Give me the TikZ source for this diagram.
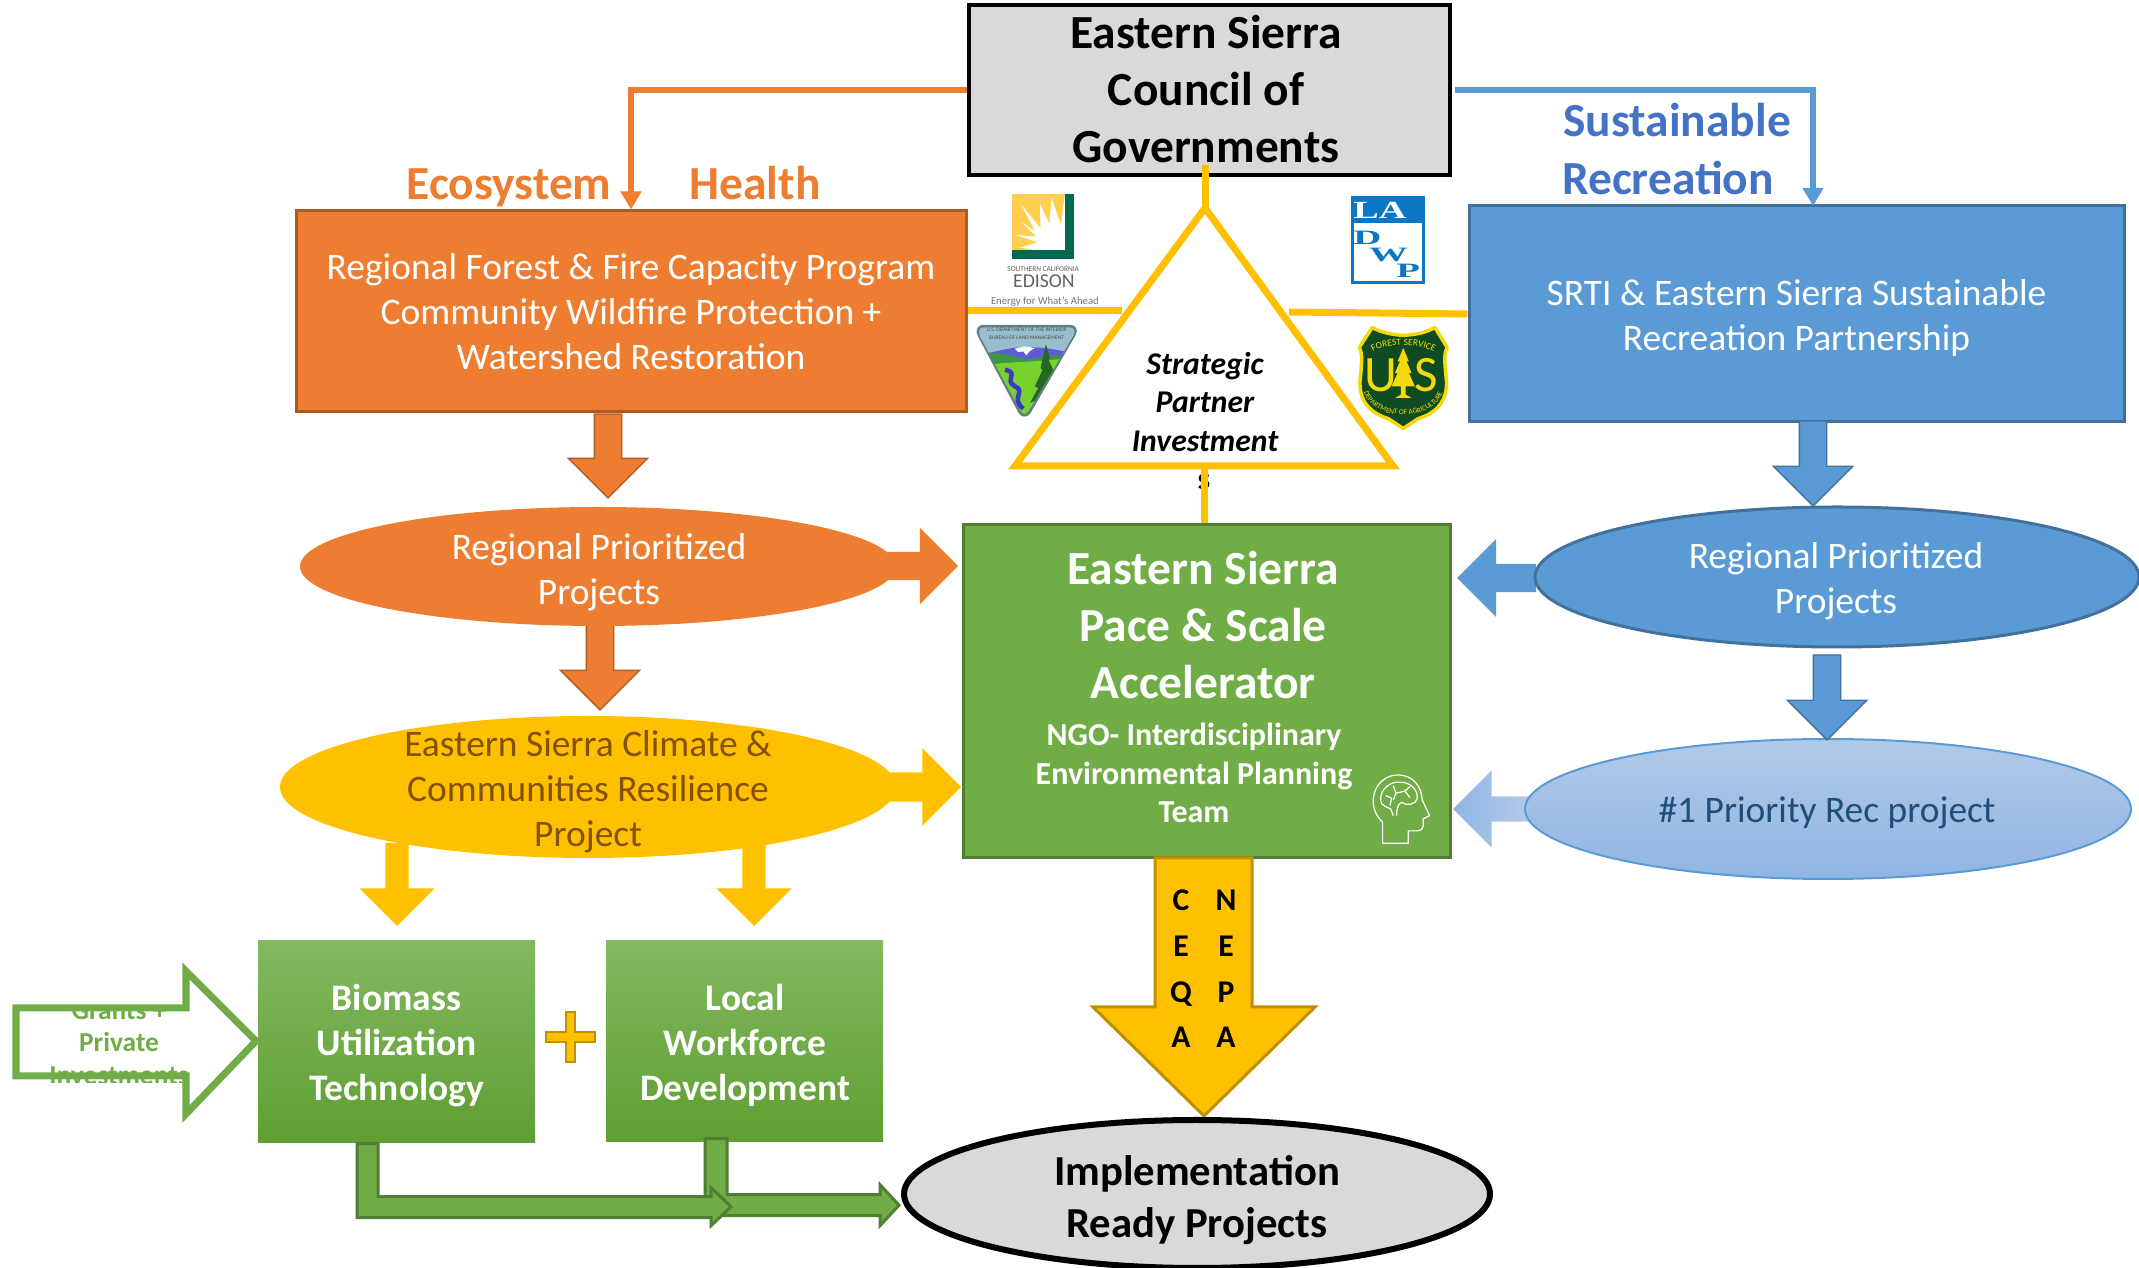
\documentclass[tikz,border=0pt]{standalone}
\usepackage{fontspec}
\usepackage{graphicx}
\setmainfont{Carlito}
\newfontfamily\slabfont{Liberation Serif}
\usetikzlibrary{positioning,arrows.meta,shapes.geometric,shapes.arrows,decorations.text}
\definecolor{esorange}{HTML}{ED7D31}
\definecolor{esorangedk}{HTML}{AE5A21}
\definecolor{esblue}{HTML}{5B9BD5}
\definecolor{esbluedk}{HTML}{41719C}
\definecolor{esgreen}{HTML}{70AD47}
\definecolor{esgreendk}{HTML}{507E32}
\definecolor{esgreentop}{HTML}{82B85F}
\definecolor{esgreenbot}{HTML}{5F9F32}
\definecolor{espaletop}{HTML}{B1CAE8}
\definecolor{espalebot}{HTML}{90B5E3}
\definecolor{esyellow}{HTML}{FFC000}
\definecolor{esyellowdk}{HTML}{BF9000}
\definecolor{esgrey}{HTML}{D9D9D9}
\definecolor{estitleblue}{HTML}{4472C4}
\definecolor{esbrown}{HTML}{845100}
\definecolor{esnavy}{HTML}{1F4E79}
\definecolor{edisongreen}{HTML}{00694F}
\definecolor{edisonsun}{HTML}{FFCF4D}
\definecolor{dwpblue}{HTML}{0B76C4}
\definecolor{usfsgreen}{HTML}{0E4B22}
\definecolor{usfsyellow}{HTML}{F5D90A}
\tikzset{
  bodytext/.style={text=white,align=center,inner sep=0pt,font=\fontsize{10.65}{12.8}\selectfont},
  boldtext/.style={align=center,inner sep=0pt,font=\fontsize{10.65}{12.8}\selectfont\bfseries},
  headtext/.style={align=center,inner sep=0pt,font=\fontsize{13.5}{16.2}\selectfont\bfseries},
  planbox/.style n args={2}{rectangle,inner sep=0pt,minimum width=#1*0.01cm,minimum height=#2*0.01cm},
  planell/.style n args={2}{ellipse,inner sep=0pt,minimum width=#1*0.01cm,minimum height=#2*0.01cm},
  barrow/.style n args={3}{single arrow,inner sep=(#2-2*#3)/2*0.01cm,anchor=tip,minimum height=#1*0.01cm,single arrow head extend=#3*0.01cm},
  downbarrow/.style={shape border rotate=270},
  leftbarrow/.style={shape border rotate=180},
  yellowline/.style={draw=esyellow,line width=0.07cm},
  tinylogo/.style={inner sep=0pt,align=center},
}
\begin{document}
\begin{tikzpicture}[x=0.01cm,y=-0.01cm]
            \useasboundingbox (0,0) rectangle (2139,1268);

            \node[planbox={481}{170},draw=black,line width=0.035cm,fill=esgrey] (council) at (1209.5,90) {};
            \node[headtext] (counciltext) at (1206,89) {Eastern Sierra\\Council of\\Governments};
            \node[planbox={670}{201},draw=esorangedk,line width=0.03cm,fill=esorange,bodytext] (forestbox) at (631,311.5) {Regional Forest \& Fire Capacity Program\\Community Wildfire Protection +\\Watershed Restoration};
            \node[planbox={655}{216},draw=esbluedk,line width=0.03cm,fill=esblue] (srtibox) at (1796.5,314) {};
            \node[bodytext] (srtitext) at (1796.5,318) {SRTI \& Eastern Sierra Sustainable\\Recreation Partnership};
            \node[planbox={487}{333},draw=esgreendk,line width=0.03cm,fill=esgreen] (accelbox) at (1206.5,691.5) {};

            \node[headtext,text=esorange,anchor=base] (ecotitle) at (509,200) {Ecosystem};
            \node[headtext,text=esorange,anchor=base] (healthtitle) at (755,200) {Health};
            \node[headtext,text=estitleblue] (sustitle) at (1677,120) {Sustainable};
            \node[headtext,text=estitleblue] (rectitle) at (1668,178) {Recreation};

            \coordinate (srtitop) at (1813,206);
            \draw[esorange,line width=0.055cm,-{Triangle[length=0.18cm,width=0.2cm]}] (council.west) -| (forestbox.north);
            \draw[esblue,line width=0.055cm,-{Triangle[length=0.18cm,width=0.2cm]}] ([xshift=0.035cm]council.east) -| (srtitop);

            \draw[yellowline,fill=white] (1205,208) coordinate (apex) -- (1393,466) coordinate (baseright) -- (1015,466) coordinate (baseleft) -- cycle;
            \coordinate (councilfoot) at (1205,165);
            \coordinate (apexfoot) at (1204,466);
            \coordinate (triwest) at (1122,311);
            \coordinate (trieast) at (1289,312);
            \node[tinylogo,font=\fontsize{9}{10.9}\selectfont\bfseries] (sfoot) at (1204,482) {s};
            \draw[yellowline] (councilfoot) -- (apex);
            \draw[yellowline] (apexfoot) -- (apexfoot |- accelbox.north);
            \draw[yellowline] (forestbox.east |- triwest) -- (triwest);
            \draw[yellowline] (srtibox.west) -- (trieast);
            \node[tinylogo,font=\fontsize{9}{10.9}\selectfont\bfseries\itshape] (strategic) at (1205,402) {Strategic\\Partner\\Investment};

            \node[barrow={84}{78}{26},downbarrow,draw=esorangedk,fill=esorange] (orangedownA) at (608,499) {};
            \node[barrow={85}{78}{26},downbarrow,draw=esorangedk,fill=esorange] (orangedownB) at (600,711) {};
            \node[barrow={70}{75}{24},fill=esorange] (orangeright) at (959,566) {};
            \node[barrow={73}{76}{24},fill=esyellow] (yellowright) at (962,787) {};
            \node[barrow={83}{74}{26},downbarrow,fill=esyellow] (yellowdownA) at (397,927) {};
            \node[barrow={83}{74}{26},downbarrow,fill=esyellow] (yellowdownB) at (754,927) {};
            \node[barrow={85}{78}{26},downbarrow,draw=esbluedk,fill=esblue] (bluedownA) at (1813,507) {};
            \node[barrow={79}{77}{25},leftbarrow,fill=esblue] (blueleft) at (1456,578) {};
            \node[barrow={76}{76}{26},leftbarrow,left color=espalebot,right color=espaletop] (paleleft) at (1452,809) {};

            \node[planell={596}{119},fill=esorange] (orangeell) at (598,566.5) {};
            \node[bodytext] (orangetext) at (599,572) {Regional Prioritized\\Projects};
            \node[planell={616}{142},fill=esyellow] (yellowell) at (588,787) {};
            \node[bodytext,text=esbrown] (yellowtext) at (588,792) {Eastern Sierra Climate \&\\Communities Resilience\\Project};
            \node[planell={604}{140},draw=esbluedk,line width=0.03cm,fill=esblue] (blueell) at (1837,577) {};
            \node[bodytext] (bluetext) at (1836,581) {Regional Prioritized\\Projects};
            \node[planell={606}{140},draw=esblue,line width=0.02cm,top color=espaletop,bottom color=espalebot] (paleell) at (1828,809) {};
            \node[bodytext,text=esnavy] (paletext) at (1827,813) {\#1 Priority Rec project};
            \node[barrow={85}{78}{26},downbarrow,draw=esbluedk,fill=esblue] (bluedownB) at (1827,741) {};

            \node[headtext,text=white] (accelname) at (1203,625) {Eastern Sierra\\Pace \& Scale\\Accelerator};
            \node[tinylogo,text=white,font=\fontsize{9.1}{10.9}\selectfont\bfseries] (accelteam) at (1194,773) {NGO- Interdisciplinary\\Environmental Planning\\Team};

            \begin{scope}[shift={(1360,765)},x=0.00333cm,y=-0.00333cm,white,line width=0.012cm,line join=round]
              \draw (68,235) -- (68,172) .. controls (45,150) and (38,125) .. (40,100) .. controls (45,55) and (80,28) .. (118,30) .. controls (160,32) and (185,65) .. (187,105) -- (209,152) -- (190,162) -- (190,182) .. controls (188,195) and (178,198) .. (168,198) -- (145,198) -- (145,235) -- cycle;
              \draw (62,105) .. controls (60,70) and (95,48) .. (120,52) .. controls (150,50) and (175,75) .. (172,100) .. controls (170,118) and (140,125) .. (125,112) .. controls (112,118) and (110,135) .. (110,152);
              \draw (62,105) .. controls (60,122) and (85,128) .. (92,132) -- (100,152);
              \draw (78,92) -- (95,100) -- (90,122);
              \draw (100,62) -- (108,85) -- (135,78) -- (150,65);
              \draw (108,85) -- (100,105);
              \draw (135,78) -- (150,98);
            \end{scope}

            \node[planbox={277}{202},top color=esgreentop,bottom color=esgreenbot] (biomass) at (396.5,1042) {};
            \node[boldtext,text=white] (biomasstext) at (396.5,1046) {Biomass\\Utilization\\Technology};
            \node[planbox={277}{201},top color=esgreentop,bottom color=esgreenbot] (workforce) at (744.5,1041.5) {};
            \node[boldtext,text=white] (workforcetext) at (745,1045) {Local\\Workforce\\Development};

            \draw[draw=esyellowdk,line width=0.02cm,fill=esyellow] (566,1012) -- (575,1012) -- (575,1032) -- (595,1032) -- (595,1042) -- (575,1042) -- (575,1062) -- (566,1062) -- (566,1042) -- (546,1042) -- (546,1032) -- (566,1032) -- cycle;

            \begin{scope}
              \clip (14,1008) -- (186,1008) -- (186,964) -- (258,1041) -- (186,1119) -- (186,1083) -- (14,1083) -- cycle;
              \node[tinylogo,text=esgreen,font=\fontsize{7.8}{9.3}\selectfont\bfseries] (grantstext) at (119,1043) {Grants +\\Private\\Investments};
            \end{scope}
            \draw[esgreen,line width=0.07cm,miter limit=6] (16,1008) -- (186,1008) -- (186,971) -- (256,1041) -- (186,1114) -- (186,1076) -- (16,1076) -- cycle;

            \draw[draw=esgreendk,line width=0.03cm,fill=esgreen] (workforce.south) ++(-39.5,-4) -- ++(22,0) -- ++(0,56) -- ++(153,0) -- ++(0,-10) -- ++(19,20.5) -- ++(-19,20.5) -- ++(0,-10) -- ++(-175,0) -- cycle;
            \draw[draw=esgreendk,line width=0.03cm,fill=esgreen] (biomass.south) ++(-39.5,0) -- ++(21,0) -- ++(0,53) -- ++(333,0) -- ++(0,-9) -- ++(20,19) -- ++(-20,19) -- ++(0,-8) -- ++(-354,0) -- cycle;

            \draw[draw=esyellowdk,line width=0.03cm,fill=esyellow] (1155,858) -- (1252,858) -- (1252,1007) -- (1315,1007) -- (1204,1116) -- (1093,1007) -- (1155,1007) -- cycle;
            \node[tinylogo,font=\fontsize{9}{13}\selectfont\bfseries] (ceqatext) at (1181,969) {C\\E\\Q\\A};
            \node[tinylogo,font=\fontsize{9}{13}\selectfont\bfseries] (nepatext) at (1226,969) {N\\E\\P\\A};

            \node[planell={586}{148},draw=black,line width=0.06cm,fill=esgrey] (readyell) at (1197,1194) {};
            \node[tinylogo,font=\fontsize{12.15}{14.6}\selectfont\bfseries] (readytext) at (1197,1200) {Implementation\\Ready Projects};

            \begin{scope}[shift={(970,185)},x=0.00333cm,y=-0.00333cm]
              \fill[edisongreen] (127,27) rectangle (313,222);
              \fill[edisonsun] (127,27) rectangle (285,195);
              \fill[white] (285,195) -- (285,30) -- (273,120) -- (245,38) -- (238,118) -- (210,55) -- (212,130) -- (155,60) -- (195,138) -- (155,112) -- (200,155) -- (135,150) -- (205,172) -- (150,188) -- (190,195) -- cycle;
              \node[tinylogo,text=black!65,font=\fontsize{2.1}{2.1}\selectfont] (edisonsouth) at (220,254) {SOUTHERN CALIFORNIA};
              \node[tinylogo,text=black!62,font=\fontsize{5.6}{5.6}\selectfont] (edisonname) at (222,290) {EDISON};
              \node[tinylogo,text=black!55,font=\fontsize{3.05}{3.05}\selectfont] (edisontag) at (225,350) {Energy for What's Ahead};

              \fill[gray!75!teal] (40,420) -- (300,420) .. controls (318,420) and (326,435) .. (318,450) -- (182,685) .. controls (172,700) and (155,700) .. (146,685) -- (24,455) .. controls (14,438) and (22,420) .. (40,420) -- cycle;
              \begin{scope}
                \clip (40,428) -- (300,428) .. controls (312,428) and (318,440) .. (312,450) -- (176,680) .. controls (170,690) and (158,690) .. (152,680) -- (30,455) .. controls (24,440) and (28,428) .. (40,428) -- cycle;
                \fill[blue!30!cyan!35!gray!60] (0,420) rectangle (330,510);
                \fill[blue!60!gray!80] (35,510) .. controls (80,500) and (110,490) .. (150,488) .. controls (190,485) and (250,490) .. (300,505) -- (300,540) -- (35,540) -- cycle;
                \fill[white] (135,492) -- (165,485) -- (195,490) -- (178,500) -- (170,512) -- (160,500) -- (145,502) -- cycle;
                \fill[green!45!black!75] (30,505) .. controls (80,500) and (120,510) .. (170,525) -- (300,505) -- (300,570) -- (30,570) -- cycle;
                \fill[green!55!yellow!65!gray] (30,545) .. controls (100,530) and (170,535) .. (300,520) -- (300,700) -- (30,700) -- cycle;
                \draw[blue!55!gray,line width=0.045cm] (105,555) .. controls (150,565) and (100,585) .. (135,605) .. controls (170,620) and (120,640) .. (160,672);
                \fill[green!30!black!85] (228,478) -- (240,520) -- (236,525) -- (252,560) -- (246,565) -- (268,620) -- (215,640) -- (180,655) -- (205,610) -- (195,605) -- (218,555) -- (212,550) -- cycle;
              \end{scope}
              \node[tinylogo,text=black!70,font=\fontsize{1.55}{2.3}\selectfont] (blmtext) at (170,447) {U.S. DEPARTMENT OF THE INTERIOR\\BUREAU OF LAND MANAGEMENT};
            \end{scope}

            \begin{scope}[shift={(1340,185)},x=0.00333cm,y=-0.00333cm]
              \draw[draw=dwpblue,line width=0.03cm,fill=white] (37,38) rectangle (250,293);
              \fill[dwpblue] (32,33) rectangle (255,115);
              \node[tinylogo,text=white,font=\slabfont\fontsize{7}{7}\selectfont\bfseries] (dwpla) at (120,76) {\scalebox{1.55}[1]{LA}};
              \node[tinylogo,text=dwpblue,font=\slabfont\fontsize{5.8}{5.8}\selectfont\bfseries] (dwpd) at (82,160) {\scalebox{1.9}[1]{D}};
              \node[tinylogo,text=dwpblue,font=\slabfont\fontsize{5.8}{5.8}\selectfont\bfseries] (dwpw) at (146,210) {\scalebox{1.9}[1]{W}};
              \node[tinylogo,text=dwpblue,font=\slabfont\fontsize{5.8}{5.8}\selectfont\bfseries] (dwpp) at (205,258) {\scalebox{1.9}[1]{P}};

              \draw[draw=usfsyellow,line width=0.035cm,fill=usfsgreen,line join=round] (97,428) .. controls (125,445) and (165,450) .. (190,452) .. controls (220,450) and (258,445) .. (285,428) -- (322,488) .. controls (310,510) and (316,545) .. (320,590) .. controls (322,650) and (290,685) .. (235,702) -- (190,732) -- (145,702) .. controls (90,685) and (58,650) .. (60,590) .. controls (64,545) and (70,510) .. (58,488) -- cycle;
              \node[tinylogo,text=usfsyellow,font=\fontsize{14.5}{14.5}\selectfont] (usfsu) at (122,572) {U};
              \node[tinylogo,text=usfsyellow,font=\fontsize{14.5}{14.5}\selectfont] (usfss) at (260,572) {S};
              \fill[usfsyellow] (190,490) -- (207,530) -- (200,530) -- (215,565) -- (207,565) -- (225,605) -- (197,605) -- (197,630) -- (215,640) -- (165,640) -- (183,630) -- (183,605) -- (155,605) -- (173,565) -- (165,565) -- (180,530) -- (173,530) -- cycle;
              \path[decorate,decoration={text along path,text align=center,text={|\fontsize{2.7}{2.7}\selectfont\color{usfsyellow}|FOREST SERVICE}}] (80,515) .. controls (125,470) and (255,470) .. (302,515);
              \path[decorate,decoration={text along path,text align=center,text={|\fontsize{2.1}{2.1}\selectfont\color{usfsyellow}|DEPARTMENT OF AGRICULTURE}}] (72,625) .. controls (100,712) and (280,712) .. (308,625);
            \end{scope}
          \end{tikzpicture}
\end{document}
